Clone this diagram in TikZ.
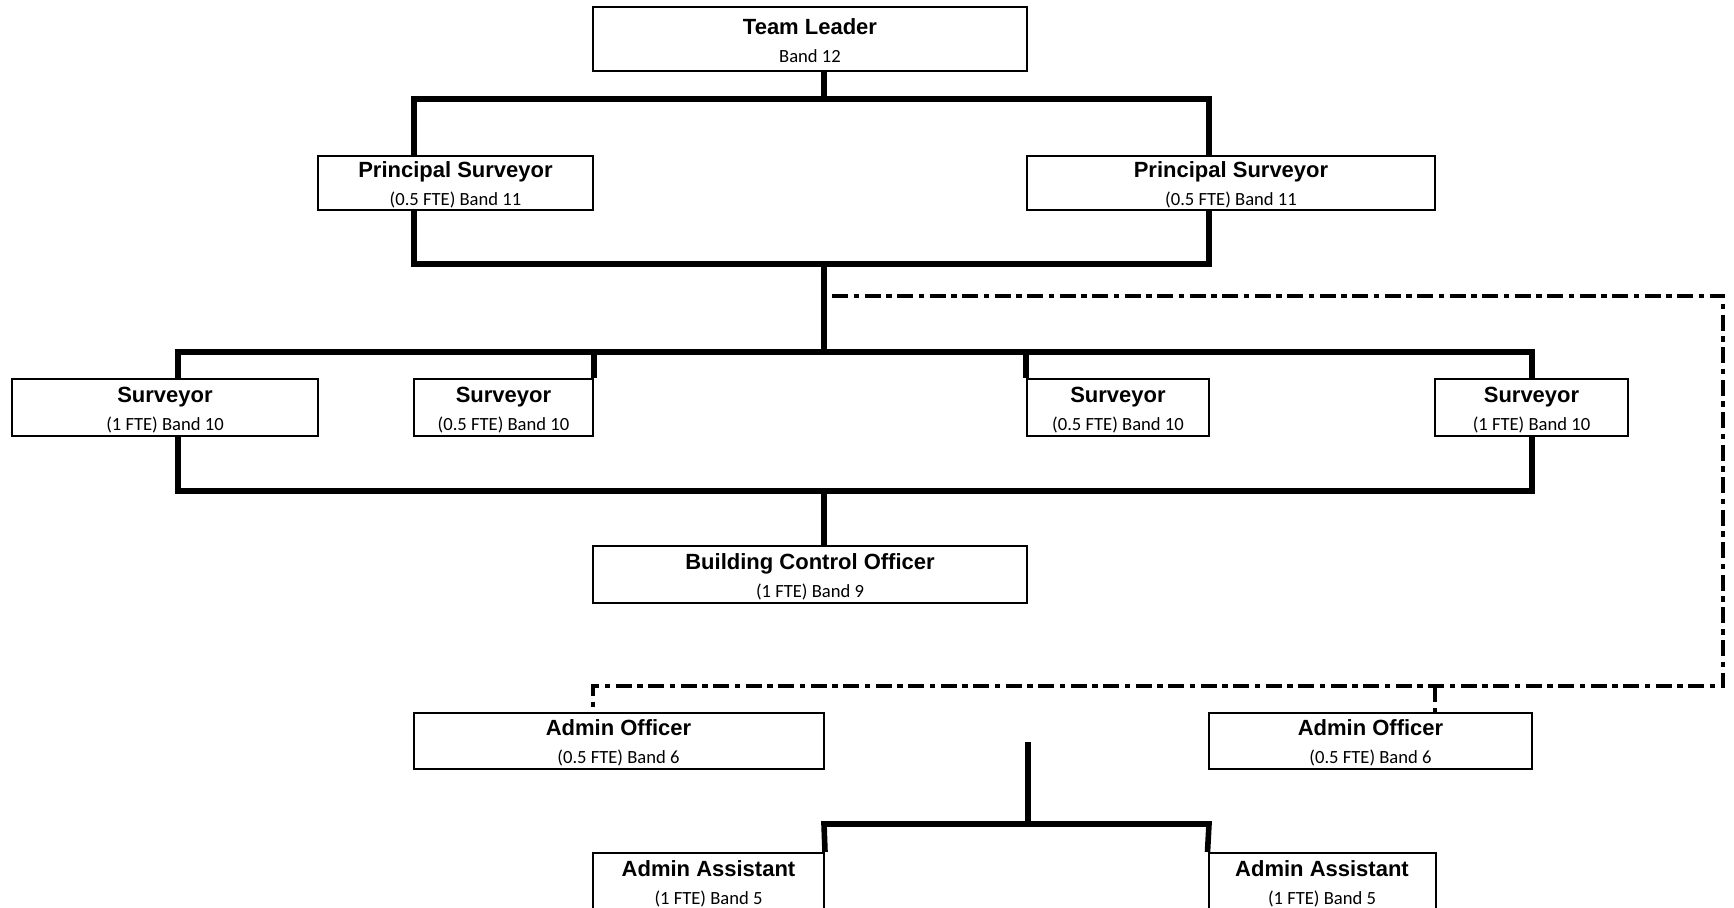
\documentclass[tikz,border=0pt]{standalone}
\usepackage{fontspec}
\setmainfont{Carlito}
\newfontfamily\headfont{Liberation Sans}
\usepackage{tikz}

\newcommand{\post}[2]{{\headfont\bfseries\fontsize{11}{14}\selectfont\rule{0pt}{10pt}#1}\\#2}

\begin{document}
\begin{tikzpicture}[x=0.5pt, y=-0.5pt,
    role/.style={draw, line width=1pt, align=center, inner sep=0pt,
      font=\fontsize{9.3}{14}\selectfont, minimum height=28.5pt},
    link/.style={line width=2.8pt, line join=miter},
    dotlink/.style={line width=2pt, dash pattern=on 8pt off 2.75pt on 2.75pt off 2.75pt}]
  \useasboundingbox (0,0) rectangle (1734,908);

  % boxes
  \node[role, minimum width=217pt, minimum height=32pt] (tl)  at (810,39)     {\post{Team Leader}{Band 12}};
  \node[role, minimum width=137.5pt, minimum height=27pt] (ps1) at (455.5,183) {\post{Principal Surveyor}{(0.5 FTE) Band 11}};
  \node[role, minimum width=204pt, minimum height=27pt] (ps2) at (1231,183)    {\post{Principal Surveyor}{(0.5 FTE) Band 11}};
  \node[role, minimum width=153pt]  (s1)  at (165,407.5)    {\post{Surveyor}{(1 FTE) Band 10}};
  \node[role, minimum width=89.5pt] (s2)  at (503.5,407.5)  {\post{Surveyor}{(0.5 FTE) Band 10}};
  \node[role, minimum width=91pt]   (s3)  at (1118,407.5)   {\post{Surveyor}{(0.5 FTE) Band 10}};
  \node[role, minimum width=96.5pt] (s4)  at (1531.5,407.5) {\post{Surveyor}{(1 FTE) Band 10}};
  \node[role, minimum width=217pt]  (bco) at (810,574.5)    {\post{Building Control Officer}{(1 FTE) Band 9}};
  \node[role, minimum width=205pt, minimum height=28pt]   (ao1) at (618.5,741)  {\post{Admin Officer}{(0.5 FTE) Band 6}};
  \node[role, minimum width=161.5pt, minimum height=28pt] (ao2) at (1370.5,741) {\post{Admin Officer}{(0.5 FTE) Band 6}};
  \node[role, minimum width=115.5pt] (aa1) at (708.5,881.5) {\post{Admin Assistant}{(1 FTE) Band 5}};
  \node[role, minimum width=113.5pt] (aa2) at (1322,881.5)  {\post{Admin Assistant}{(1 FTE) Band 5}};

  % junctions
  \coordinate (top)  at (824,99);
  \coordinate (b1)   at (414,99);   \coordinate (b2)  at (1209,99);
  \coordinate (b3)   at (414,264);  \coordinate (b4)  at (1209,264);
  \coordinate (mid1) at (824,264);  \coordinate (mid2) at (824,352);
  \coordinate (b5)   at (178,352);  \coordinate (b6)  at (1532,352);
  \coordinate (b7)   at (178,491);  \coordinate (b8)  at (1532,491);
  \coordinate (mid3) at (824,491);
  \coordinate (d0)   at (832,296);  \coordinate (d1)  at (1723,296);
  \coordinate (d2)   at (1723,686); \coordinate (d3)  at (593,686);
  \coordinate (d4)   at (1435,686);
  \coordinate (mid4) at (1028,742); \coordinate (mid5) at (1028,824);
  \coordinate (b9)   at (824,824);  \coordinate (b10) at (1209,824);

  \draw[link] (tl.south -| top) -- (top); %
  \draw[link] (ps1.north -| b1) -- (b1) -- (b2) -- (ps2.north -| b2); %
  \draw[link] (ps1.south -| b3) -- (b3) -- (b4) -- (ps2.south -| b4); %
  \draw[link] (mid1) -- (mid2); %
  \draw[link] (s1.north -| b5) -- (b5) -- (b6) -- (s4.north -| b6); %
  \draw[link] (s2.north east) -- (s2.north east |- b5); %
  \draw[link] (s3.north west) -- (s3.north west |- b5); %
  \draw[link] (s1.south -| b7) -- (b7) -- (b8) -- (s4.south -| b8); %
  \draw[link] (mid3) -- (bco.north -| mid3); %
  \draw[dotlink] (d0) -- (d1) -- (d2) -- (d3) -- (ao1.north -| d3); %
  \draw[dotlink] (d4) -- (ao2.north -| d4); %
  \draw[link] (mid4) -- (mid5); %
  \draw[link] (aa1.north east) -- (b9) -- (b10) -- (aa2.north west); %
\end{tikzpicture}
\end{document}
